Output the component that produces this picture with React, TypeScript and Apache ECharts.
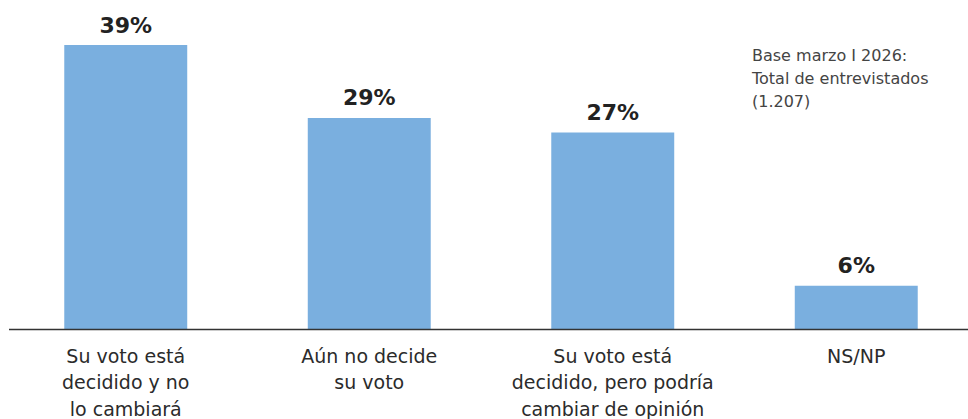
import React, { useEffect, useRef } from "react";
import * as echarts from "echarts";

const categories = [
  "Su voto está\ndecidido y no\nlo cambiará",
  "Aún no decide\nsu voto",
  "Su voto está\ndecidido, pero podría\ncambiar de opinión",
  "NS/NP",
];
const values = [39, 29, 27, 6];
const note = "Base marzo I 2026:\nTotal de entrevistados\n(1.207)";

export default function App() {
  const ref = useRef<HTMLDivElement>(null);
  useEffect(() => {
    if (!ref.current) return;
    const chart = echarts.init(ref.current, undefined, { renderer: "svg" });
    chart.setOption({
      animation: false,
      grid: {
        left: 4,
        width: 974,
        top: 45,
        height: 284.5,
        containLabel: false,
        outerBoundsMode: "none",
      },
      xAxis: {
        type: "category",
        data: categories,
        axisLine: { show: false },
        axisTick: { show: false },
        axisLabel: {
          interval: 0,
          margin: 13,
          fontSize: 19,
          lineHeight: 26.5,
          color: "#2b2b2b",
          fontFamily: "DejaVu Sans",
        },
      },
      yAxis: {
        type: "value",
        min: 0,
        max: 39,
        show: false,
      },
      series: [
        {
          type: "bar",
          data: values,
          barWidth: "50.5%",
          itemStyle: { color: "#7aafdf" },
          label: {
            show: true,
            position: "top",
            distance: 9,
            formatter: "{c}%",
            fontSize: 22,
            fontWeight: "bold",
            color: "#222",
            fontFamily: "DejaVu Sans",
          },
        },
      ],
      graphic: [
        {
          type: "line",
          shape: { x1: 9, y1: 329.5, x2: 968, y2: 329.5 },
          style: { stroke: "#333", lineWidth: 1.5 },
          z: 10,
        },
        {
          type: "text",
          left: 752,
          top: 44,
          style: {
            text: note,
            fontSize: 16,
            lineHeight: 23,
            fill: "#444",
            fontFamily: "DejaVu Sans",
          },
        },
      ],
    });
    return () => chart.dispose();
  }, []);
  return (
    <div style={{ width: 968, height: 419, position: "absolute", left: 0, top: 0, overflow: "hidden" }}>
      <div ref={ref} style={{ width: 980, height: 419 }} />
    </div>
  );
}
